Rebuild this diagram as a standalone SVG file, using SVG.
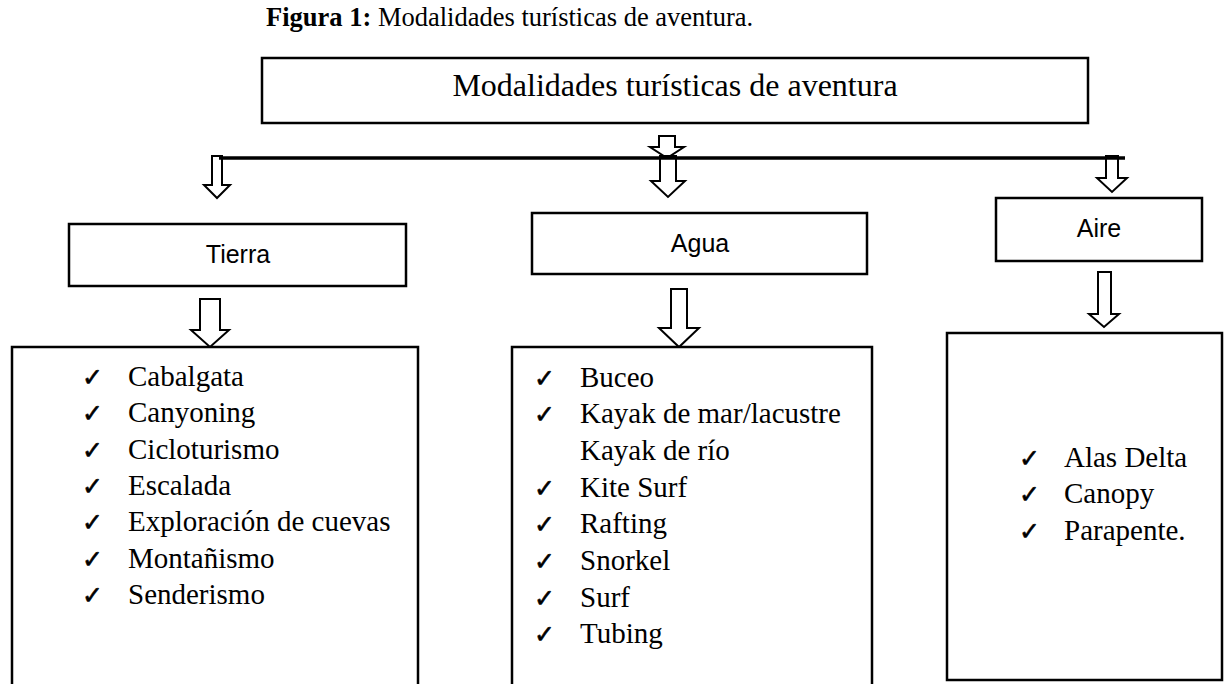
<svg xmlns="http://www.w3.org/2000/svg" width="1224" height="684" viewBox="0 0 1224 684">
<style>
.box{fill:#fff;stroke:#000;stroke-width:2.5}
.arr{fill:#fff;stroke:#000;stroke-width:2;stroke-linejoin:miter}
.serif{font-family:"Liberation Serif","Times New Roman",serif;fill:#000}
.sans{font-family:"Liberation Sans",Arial,sans-serif;font-size:25px;fill:#000;text-anchor:middle}
.item{font-family:"Liberation Serif","Times New Roman",serif;font-size:29px;fill:#000}
.chk{font-family:"DejaVu Sans",sans-serif;font-size:25px;fill:#000;stroke:#000;stroke-width:0.6}
</style>
<rect width="1224" height="684" fill="#fff"/>
<text class="serif" x="266" y="26" font-size="26.5"><tspan font-weight="bold">Figura 1:</tspan> Modalidades turísticas de aventura.</text>

<g id="connectors">
<path class="arr" d="M659,136 H675 V147 H684 L667,158 L650,147 H659 Z"/>
<path class="arr" d="M660,156 H676 V181 H685 L668,197 L651,181 H660 Z"/>
<path class="arr" d="M212,156 H222 V185 H230 L217,198 L204,185 H212 Z"/>
<path class="arr" d="M1106,156 H1118 V178 H1127 L1112,192 L1097,178 H1106 Z"/>
<line x1="219" y1="158" x2="1125" y2="158" stroke="#000" stroke-width="3.5"/>
<path class="arr" d="M200,299 H220 V330 H229 L210,347 L191,330 H200 Z"/>
<path class="arr" d="M671,289 H687 V328 H699 L679,347 L659,328 H671 Z"/>
<path class="arr" d="M1098,272 H1111 V314 H1119 L1104,327 L1089,314 H1098 Z"/>
</g>

<g id="root">
<rect class="box" x="262" y="58" width="826" height="65"/>
<text class="serif" x="675" y="96" font-size="32" text-anchor="middle">Modalidades turísticas de aventura</text>
</g>

<g id="tierra">
<rect class="box" x="69" y="224" width="337" height="62"/>
<text class="sans" x="238" y="263">Tierra</text>
</g>
<g id="agua">
<rect class="box" x="532" y="213" width="335" height="61"/>
<text class="sans" x="700" y="252">Agua</text>
</g>
<g id="aire">
<rect class="box" x="996" y="198" width="206" height="63"/>
<text class="sans" x="1099" y="237">Aire</text>
</g>

<g id="tierra-list">
<rect class="box" x="12" y="347" width="406" height="345"/>
<text class="chk" x="82" y="386">✓</text><text class="item" x="128" y="386">Cabalgata</text>
<text class="chk" x="82" y="422">✓</text><text class="item" x="128" y="422">Canyoning</text>
<text class="chk" x="82" y="459">✓</text><text class="item" x="128" y="459">Cicloturismo</text>
<text class="chk" x="82" y="495">✓</text><text class="item" x="128" y="495">Escalada</text>
<text class="chk" x="82" y="531">✓</text><text class="item" x="128" y="531">Exploración de cuevas</text>
<text class="chk" x="82" y="568">✓</text><text class="item" x="128" y="568">Montañismo</text>
<text class="chk" x="82" y="604">✓</text><text class="item" x="128" y="604">Senderismo</text>
</g>

<g id="agua-list">
<rect class="box" x="512" y="347" width="360" height="345"/>
<text class="chk" x="534" y="387">✓</text><text class="item" x="580" y="387">Buceo</text>
<text class="chk" x="534" y="423">✓</text><text class="item" x="580" y="423">Kayak de mar/lacustre</text>
<text class="item" x="580" y="460">Kayak de río</text>
<text class="chk" x="534" y="497">✓</text><text class="item" x="580" y="497">Kite Surf</text>
<text class="chk" x="534" y="533">✓</text><text class="item" x="580" y="533">Rafting</text>
<text class="chk" x="534" y="570">✓</text><text class="item" x="580" y="570">Snorkel</text>
<text class="chk" x="534" y="607">✓</text><text class="item" x="580" y="607">Surf</text>
<text class="chk" x="534" y="643">✓</text><text class="item" x="580" y="643">Tubing</text>
</g>

<g id="aire-list">
<rect class="box" x="947" y="333" width="275" height="347"/>
<text class="chk" x="1019" y="467">✓</text><text class="item" x="1064" y="467">Alas Delta</text>
<text class="chk" x="1019" y="503">✓</text><text class="item" x="1064" y="503">Canopy</text>
<text class="chk" x="1019" y="540">✓</text><text class="item" x="1064" y="540">Parapente.</text>
</g>
</svg>
